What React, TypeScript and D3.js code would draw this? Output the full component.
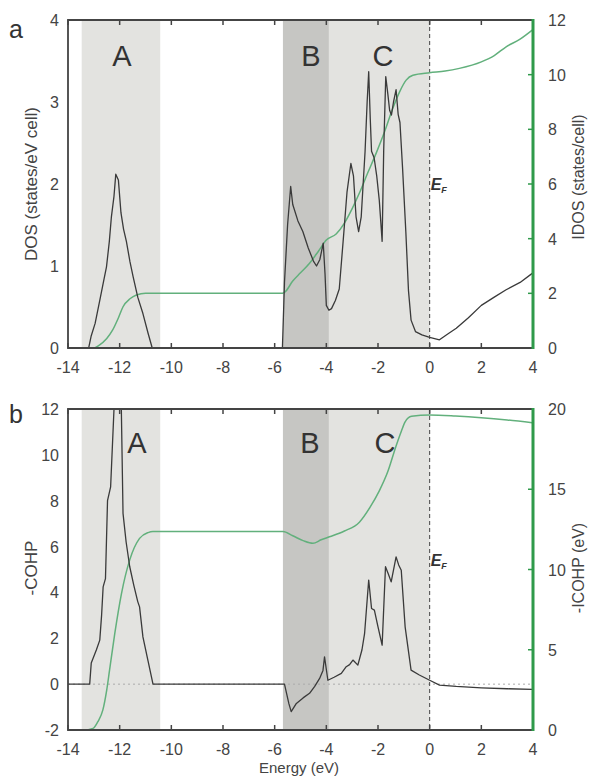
import React, { useRef, useEffect } from 'react';
import * as d3 from 'd3';

const W = 590;
const H = 778;
const X0 = 68;
const X1 = 533;
const FONT = '"Liberation Sans", Arial, sans-serif';

const xTicks = [-14, -12, -10, -8, -6, -4, -2, 0, 2, 4];
const dosTicks = [0, 1, 2, 3, 4];
const idosTicks = [0, 2, 4, 6, 8, 10, 12];
const cohpTicks = [-2, 0, 2, 4, 6, 8, 10, 12];
const icohpTicks = [0, 5, 10, 15, 20];

// shaded energy windows A, B, C
const regions = [
  { name: 'A', from: -13.47, to: -10.43, shade: 'light' },
  { name: 'B', from: -5.68, to: -3.9, shade: 'dark' },
  { name: 'C', from: -3.9, to: 0, shade: 'light' },
];

// panel a: DOS (black) and IDOS (green)
const dosE = [-14, -13.2, -13.1, -12.95, -12.77, -12.6, -12.51, -12.4, -12.32, -12.22, -12.15, -12.05, -11.95, -11.85, -11.74, -11.6, -11.48, -11.3, -11.1, -10.9, -10.74,
  -5.7, -5.62, -5.5, -5.38, -5.3, -5.1, -4.91, -4.7, -4.5, -4.38, -4.25, -4.12, -4.05, -4.0, -3.9, -3.8, -3.65, -3.5, -3.35, -3.2, -3.05, -2.95, -2.85, -2.75, -2.65, -2.5, -2.42, -2.36, -2.3, -2.25, -2.15, -2.05, -1.95, -1.84, -1.78, -1.7, -1.62, -1.55, -1.48, -1.4, -1.3, -1.22, -1.15, -1.05, -0.92, -0.82, -0.72, -0.55, -0.3, 0, 0.38, 0.7, 1.03, 1.5, 2.0, 2.5, 2.96, 3.5, 3.97];
const dosV = [0, 0, 0.15, 0.3, 0.58, 0.85, 0.99, 1.3, 1.6, 1.85, 2.12, 2.05, 1.65, 1.45, 1.3, 1.05, 0.87, 0.62, 0.42, 0.18, 0,
  0, 0.8, 1.5, 1.97, 1.75, 1.55, 1.42, 1.22, 1.06, 1.0, 1.08, 1.28, 0.9, 0.52, 0.46, 0.48, 0.58, 0.72, 1.3, 1.9, 2.25, 2.1, 1.6, 1.42, 1.6, 2.4, 3.0, 3.37, 2.8, 2.4, 2.32, 2.1, 1.8, 1.3, 2.4, 3.31, 3.1, 2.9, 2.84, 3.0, 3.15, 2.85, 2.75, 2.2, 1.4, 0.7, 0.34, 0.2, 0.16, 0.13, 0.1, 0.17, 0.24, 0.37, 0.52, 0.62, 0.71, 0.8, 0.91];

const idosE = [-14, -13.0, -12.8, -12.5, -12.27, -12.05, -11.87, -11.6, -11.35, -11.0, -5.7, -5.6, -5.3, -5.0, -4.65, -4.3, -4.0, -3.62, -3.3, -3.0, -2.72, -2.4, -2.07, -1.75, -1.43, -1.15, -0.91, -0.65, 0, 0.6, 1.15, 2.0, 2.5, 2.96, 3.5, 3.97];
const idosV = [0, 0, 0.1, 0.35, 0.66, 1.1, 1.51, 1.8, 1.94, 2.0, 2.0, 2.05, 2.45, 2.75, 3.1, 3.55, 3.95, 4.17, 4.57, 5.1, 5.67, 6.4, 7.13, 7.9, 8.76, 9.4, 9.8, 9.98, 10.07, 10.13, 10.23, 10.47, 10.7, 11.02, 11.3, 11.63];

// panel b: -COHP (black) and -ICOHP (green)
const cohpE = [-14, -13.16, -13.1, -12.9, -12.77, -12.7, -12.64, -12.55, -12.47, -12.35, -12.2, -12.1, -11.95, -11.87, -11.75, -11.61, -11.45, -11.3, -11.23, -11.1, -10.9, -10.71,
  -5.62, -5.45, -5.36, -5.16, -4.9, -4.65, -4.45, -4.26, -4.13, -4.07, -3.94, -3.7, -3.42, -3.23, -3.1, -2.97, -2.78, -2.62, -2.52, -2.36, -2.25, -2.14, -2.0, -1.84, -1.71, -1.6, -1.49, -1.3, -1.2, -1.1, -0.95, -0.72, -0.4, 0, 0.38, 1.03, 2.0, 3.0, 3.97];
const cohpV = [0, 0, 0.92, 1.5, 1.92, 3.0, 4.24, 4.6, 8.0, 8.6, 12.5, 14, 13, 7.45, 6.2, 5.12, 4.3, 3.6, 3.37, 2.06, 1.0, 0,
  0, -0.85, -1.2, -0.84, -0.6, -0.4, -0.1, 0.25, 0.6, 1.19, 0.17, 0.3, 0.47, 0.76, 0.85, 1.05, 0.83, 1.5, 2.2, 4.54, 3.3, 3.23, 2.5, 1.7, 5.12, 4.8, 4.46, 5.55, 5.2, 4.97, 2.5, 0.61, 0.4, 0.17, -0.04, -0.1, -0.16, -0.2, -0.23];

const icohpE = [-14, -13.4, -13.03, -12.85, -12.65, -12.5, -12.39, -12.19, -11.93, -11.61, -11.23, -10.9, -10.71, -5.68, -5.3, -4.9, -4.52, -4.2, -3.88, -3.3, -2.72, -2.3, -1.95, -1.62, -1.3, -1.1, -0.95, -0.7, 0, 1, 2.0, 3, 3.97];
const icohpV = [0, 0, 0.1, 0.5, 1.25, 2.5, 3.74, 6.0, 8.5, 10.6, 11.94, 12.3, 12.36, 12.36, 12.1, 11.8, 11.63, 11.85, 12.04, 12.4, 12.95, 13.9, 14.9, 16.1, 17.7, 18.6, 19.2, 19.55, 19.62, 19.56, 19.46, 19.32, 19.15];

const panels = [
  {
    id: 'a', top: 20, bottom: 348, left: [0, 4], right: [0, 12], leftTicks: dosTicks, rightTicks: idosTicks,
    leftTitle: 'DOS (states/eV cell)', rightTitle: 'IDOS (states/cell)',
    black: [dosE, dosV], green: [idosE, idosV], zeroLine: false, labelY: 66, efY: 190, letterY: 38,
    leftMid: 184, rightMid: 177,
  },
  {
    id: 'b', top: 409, bottom: 730, left: [-2, 12], right: [0, 20], leftTicks: cohpTicks, rightTicks: icohpTicks,
    leftTitle: '-COHP', rightTitle: '-ICOHP (eV)',
    black: [cohpE, cohpV], green: [icohpE, icohpV], zeroLine: true, labelY: 453, efY: 566, letterY: 423,
    leftMid: 568, rightMid: 568,
  },
];

const labelX = { a: { A: 122, B: 311, C: 383 }, b: { A: 137, B: 310, C: 385 } };

export default function App() {
  const svgRef = useRef(null);

  useEffect(() => {
    const svg = d3.select(svgRef.current);
    svg.selectAll('*').remove();

    const x = d3.scaleLinear().domain([-14, 4]).range([X0, X1]);

    panels.forEach(p => {
      const yL = d3.scaleLinear().domain(p.left).range([p.bottom, p.top]);
      const yR = d3.scaleLinear().domain(p.right).range([p.bottom, p.top]);
      const g = svg.append('g');

      g.append('clipPath').attr('id', `clip-${p.id}`)
        .append('rect').attr('x', X0).attr('y', p.top).attr('width', X1 - X0).attr('height', p.bottom - p.top);

      // shaded windows
      regions.forEach(r => {
        g.append('rect')
          .attr('x', x(r.from)).attr('y', p.top)
          .attr('width', x(r.to) - x(r.from)).attr('height', p.bottom - p.top)
          .attr('fill', r.shade === 'dark' ? '#c6c6c3' : '#e3e3e0');
        g.append('text')
          .attr('x', labelX[p.id][r.name]).attr('y', p.labelY)
          .attr('text-anchor', 'middle').attr('font-size', 29).attr('font-family', FONT)
          .attr('fill', '#333').text(r.name);
      });

      if (p.zeroLine) {
        g.append('line')
          .attr('x1', X0).attr('x2', X1).attr('y1', yL(0)).attr('y2', yL(0))
          .attr('stroke', '#aaa').attr('stroke-width', 1).attr('stroke-dasharray', '2,3');
      }

      // Fermi level
      g.append('line')
        .attr('x1', x(0)).attr('x2', x(0)).attr('y1', p.top).attr('y2', p.bottom)
        .attr('stroke', '#444').attr('stroke-width', 1).attr('stroke-dasharray', '4,3');
      const ef = g.append('text')
        .attr('x', x(0) + 1).attr('y', p.efY)
        .attr('font-family', FONT).attr('font-size', 16).attr('font-weight', 'bold')
        .attr('font-style', 'italic').attr('fill', '#333');
      ef.append('tspan').text('E');
      ef.append('tspan').attr('font-size', 9).attr('dy', 3).text('F');

      const lineL = d3.line().x(d => x(d[0])).y(d => yL(d[1]));
      const lineR = d3.line().x(d => x(d[0])).y(d => yR(d[1])).curve(d3.curveMonotoneX);

      g.append('path')
        .datum(p.green[0].map((e, i) => [e, p.green[1][i]]))
        .attr('d', lineR).attr('fill', 'none')
        .attr('stroke', '#62b07c').attr('stroke-width', 1.5)
        .attr('clip-path', `url(#clip-${p.id})`);

      g.append('path')
        .datum(p.black[0].map((e, i) => [e, p.black[1][i]]))
        .attr('d', lineL).attr('fill', 'none')
        .attr('stroke', '#3a3a3a').attr('stroke-width', 1.3).attr('stroke-linejoin', 'round')
        .attr('clip-path', `url(#clip-${p.id})`);

      // x ticks, inward on top and bottom
      xTicks.forEach(t => {
        g.append('line').attr('x1', x(t)).attr('x2', x(t)).attr('y1', p.bottom).attr('y2', p.bottom - 5)
          .attr('stroke', '#444').attr('stroke-width', 1.5);
        g.append('line').attr('x1', x(t)).attr('x2', x(t)).attr('y1', p.top).attr('y2', p.top + 5)
          .attr('stroke', '#444').attr('stroke-width', 1.5);
        g.append('text')
          .attr('x', x(t)).attr('y', p.bottom + 25)
          .attr('text-anchor', 'middle').attr('font-size', 16).attr('font-family', FONT)
          .attr('fill', '#444').text(t);
      });

      p.leftTicks.forEach(t => {
        g.append('text')
          .attr('x', 59).attr('y', yL(t) + 6)
          .attr('text-anchor', 'end').attr('font-size', 16).attr('font-family', FONT)
          .attr('fill', '#444').text(t);
      });

      p.rightTicks.forEach(t => {
        g.append('line').attr('x1', X1).attr('x2', X1 - 5).attr('y1', yR(t)).attr('y2', yR(t))
          .attr('stroke', '#2f9a4a').attr('stroke-width', 1.5);
        g.append('text')
          .attr('x', 548).attr('y', yR(t) + 6)
          .attr('text-anchor', 'start').attr('font-size', 16).attr('font-family', FONT)
          .attr('fill', '#444').text(t);
      });

      // frame
      g.append('path')
        .attr('d', `M${X1},${p.top}H${X0}V${p.bottom}H${X1}`)
        .attr('fill', 'none').attr('stroke', '#444').attr('stroke-width', 1.8);
      g.append('line').attr('x1', X1).attr('x2', X1).attr('y1', p.top - 1).attr('y2', p.bottom + 1)
        .attr('stroke', '#2f9a4a').attr('stroke-width', 3);

      g.append('text')
        .attr('transform', `translate(37,${p.leftMid}) rotate(-90)`)
        .attr('text-anchor', 'middle').attr('font-size', 17).attr('font-family', FONT)
        .attr('fill', '#444').text(p.leftTitle);
      g.append('text')
        .attr('transform', `translate(584,${p.rightMid}) rotate(-90)`)
        .attr('text-anchor', 'middle').attr('font-size', 16).attr('font-family', FONT)
        .attr('fill', '#444').text(p.rightTitle);

      g.append('text')
        .attr('x', 9).attr('y', p.letterY)
        .attr('font-size', 25).attr('font-family', FONT)
        .attr('fill', '#333').text(p.id);
    });

    svg.append('text')
      .attr('x', 299).attr('y', 773)
      .attr('text-anchor', 'middle').attr('font-size', 15).attr('font-family', FONT)
      .attr('fill', '#444').text('Energy (eV)');
  }, []);

  return (
    <div style={{ position: 'absolute', left: 0, top: 0, background: '#fff' }}>
      <svg ref={svgRef} width={W} height={H} style={{ display: 'block' }} />
    </div>
  );
}
